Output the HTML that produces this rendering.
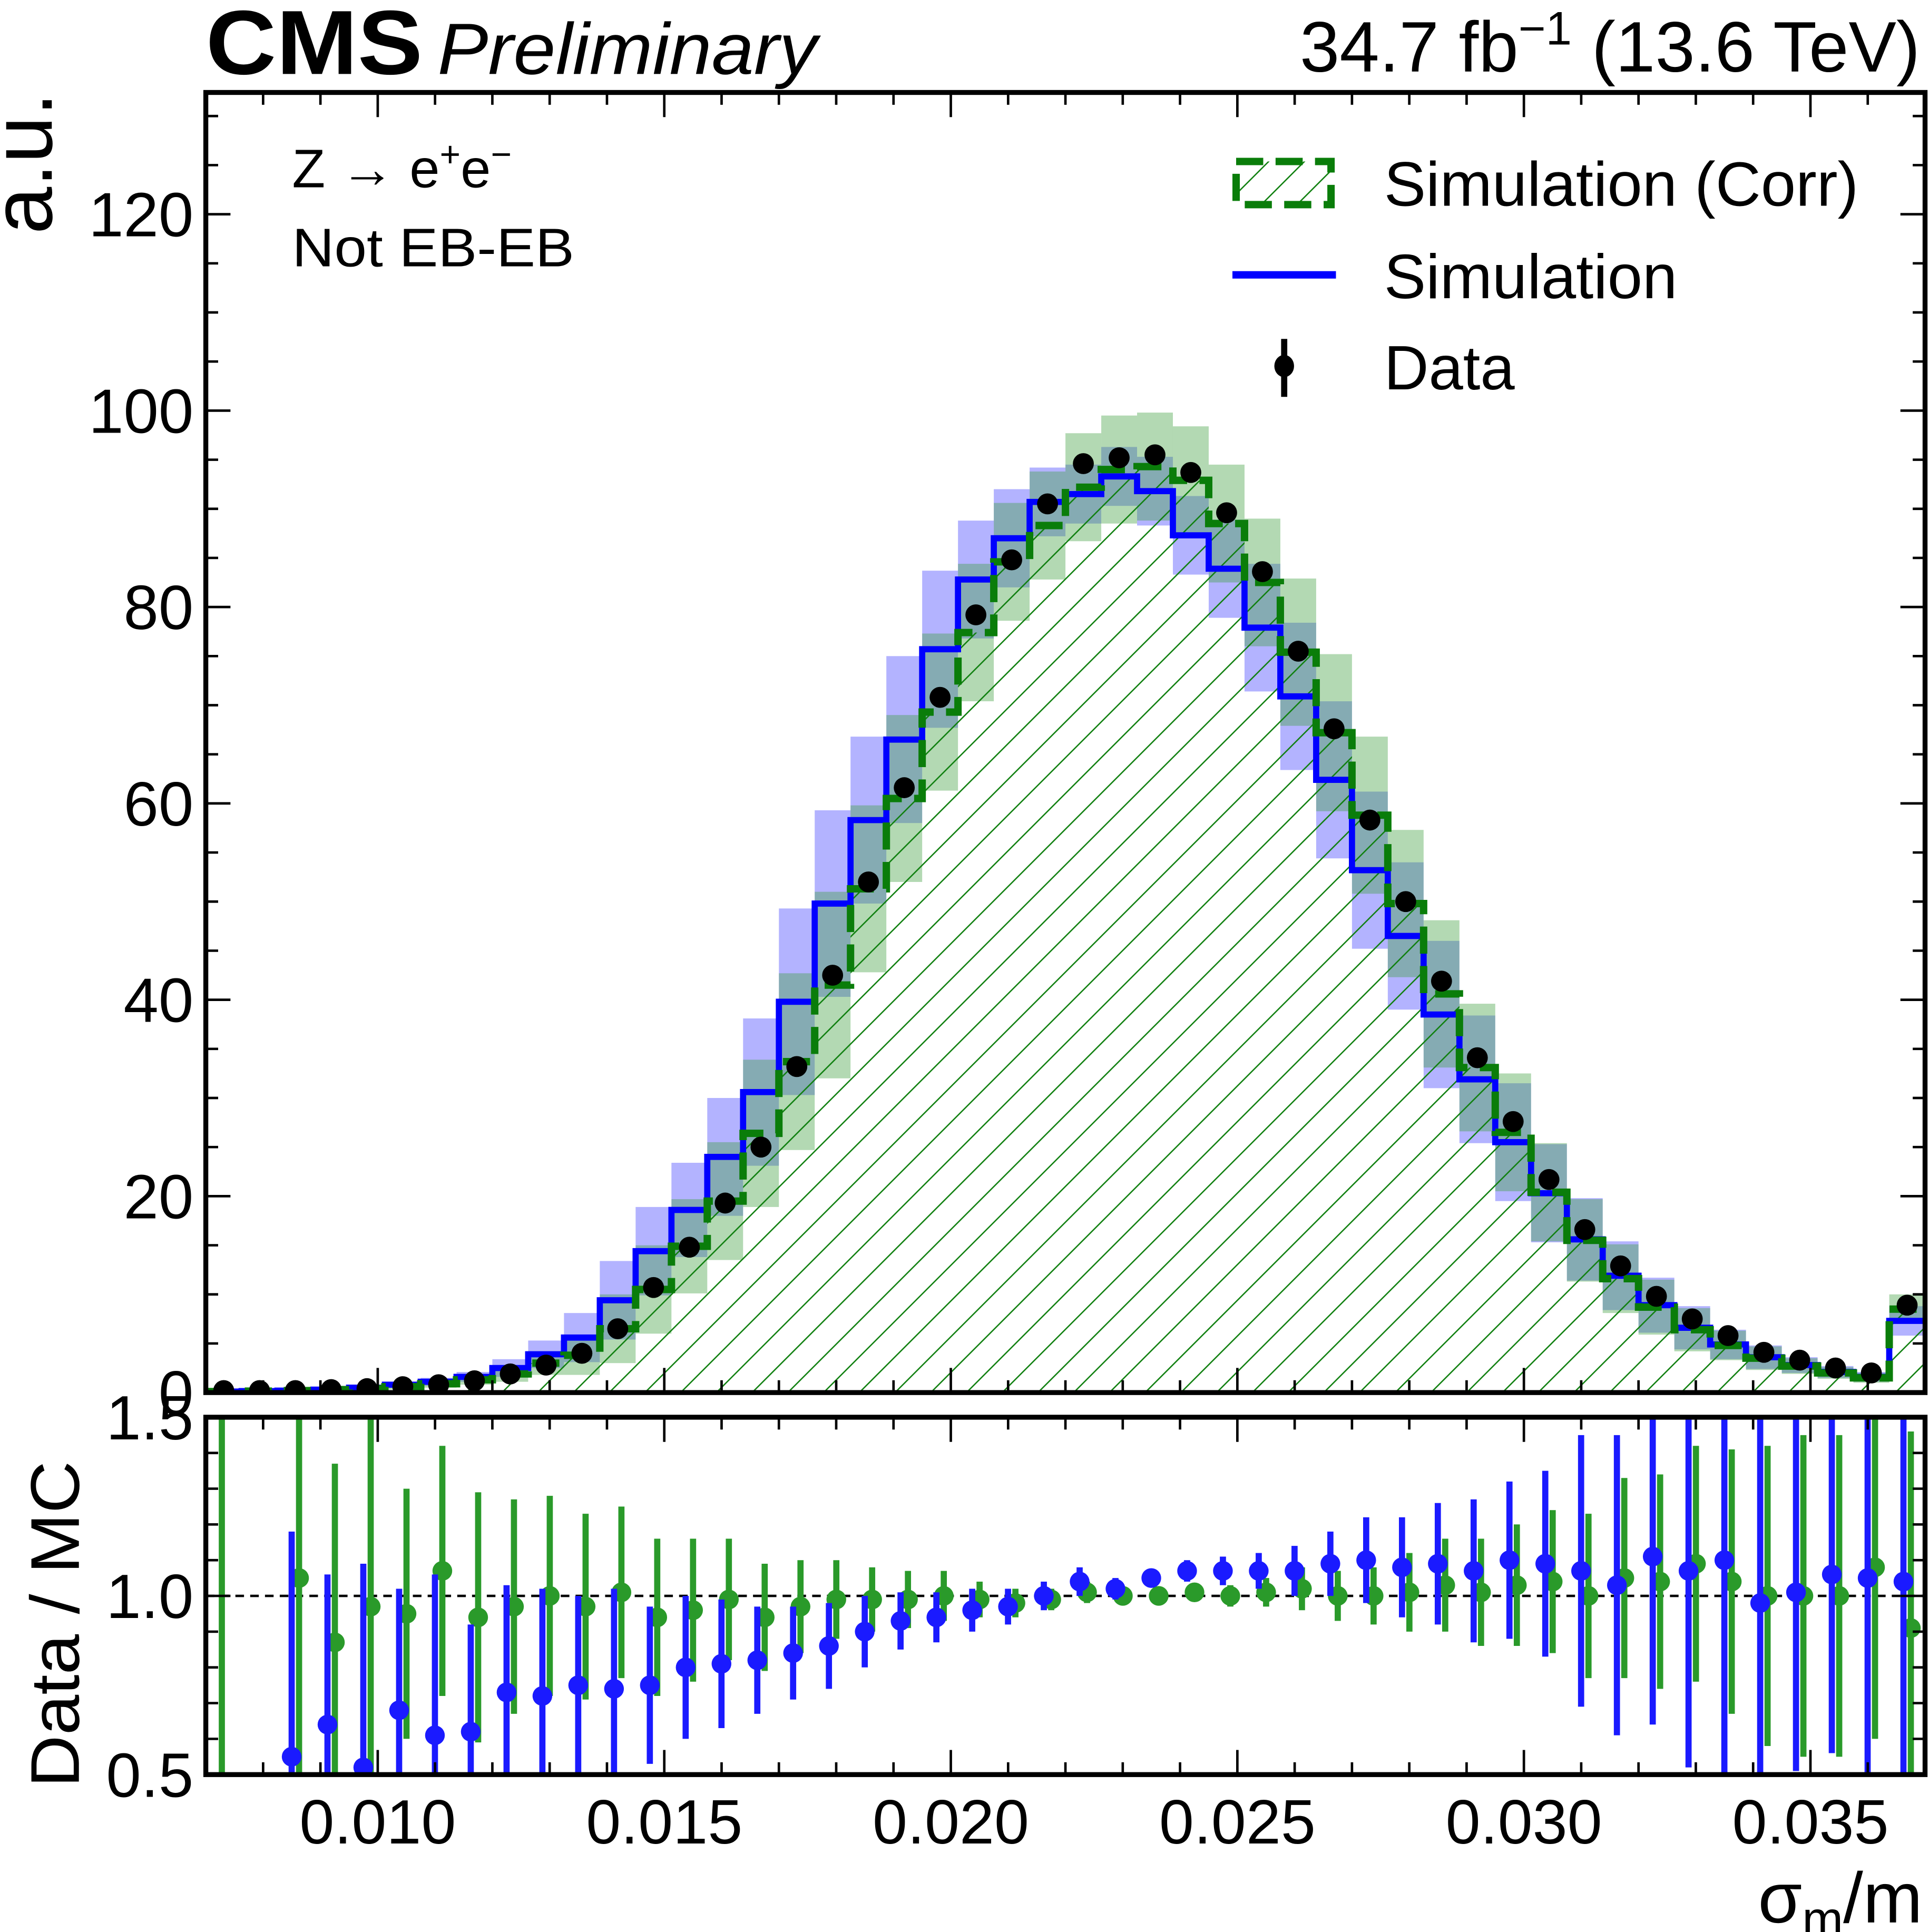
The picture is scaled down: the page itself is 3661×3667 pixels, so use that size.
<!DOCTYPE html>
<html><head><meta charset="utf-8"><style>
html,body{margin:0;padding:0;background:#fff;}
svg{display:block;}
text{font-family:"Liberation Sans",sans-serif;fill:#000;}
</style></head><body>
<svg id="chart" xmlns="http://www.w3.org/2000/svg" width="3661" height="3667" viewBox="0 0 1565.2 1567.7">
<defs>
<pattern id="hatch" patternUnits="userSpaceOnUse" width="20.5" height="20.5" patternTransform="rotate(45)">
<line x1="0" y1="0" x2="0" y2="20.5" stroke="#108010" stroke-width="2.2"/>
</pattern>
<clipPath id="mainclip"><rect x="167" y="75" width="1395" height="1055"/></clipPath>
<clipPath id="ratioclip"><rect x="167" y="1150" width="1395" height="290"/></clipPath>
</defs>
<g id="main-layer" clip-path="url(#mainclip)"></g>
<g id="ratio-layer" clip-path="url(#ratioclip)"></g>
<g id="axes-layer"></g>

<text x="167" y="60" font-size="74" font-weight="bold" textLength="176" lengthAdjust="spacingAndGlyphs">CMS</text>
<text x="355" y="60" font-size="59" font-style="italic" textLength="308" lengthAdjust="spacingAndGlyphs">Preliminary</text>
<text x="1558" y="58" font-size="58" text-anchor="end">34.7 fb<tspan font-size="38" dy="-22">−1</tspan><tspan dy="22"> (13.6 TeV)</tspan></text>
<text x="237" y="152" font-size="44">Z → e<tspan font-size="29" dy="-17">+</tspan><tspan dy="17">e</tspan><tspan font-size="29" dy="-17">−</tspan></text>
<text x="237" y="216" font-size="44" textLength="229" lengthAdjust="spacingAndGlyphs">Not EB-EB</text>
<text transform="translate(42,75) rotate(-90)" font-size="70" text-anchor="end" textLength="115" lengthAdjust="spacingAndGlyphs">a.u.</text>
<text transform="translate(64,1318) rotate(-90)" font-size="56" text-anchor="middle" textLength="265" lengthAdjust="spacingAndGlyphs">Data / MC</text>
<text x="1560" y="1560" font-size="58" text-anchor="end">σ<tspan font-size="40" dy="11">m</tspan><tspan dy="-11">/m</tspan></text>

<g>
<g>
<rect x="1003" y="131" width="77" height="35" fill="url(#hatch)" stroke="#0a7d0a" stroke-width="6" stroke-dasharray="22,10"/>
<text x="1123" y="167" font-size="51" textLength="385" lengthAdjust="spacingAndGlyphs">Simulation (Corr)</text></g>
<g>
<line x1="1000" y1="223" x2="1084" y2="223" stroke="#0000ff" stroke-width="6"/>
<text x="1123" y="242" font-size="51" textLength="238" lengthAdjust="spacingAndGlyphs">Simulation</text></g>
<g>
<line x1="1042" y1="275" x2="1042" y2="322" stroke="#000" stroke-width="5"/>
<ellipse cx="1042" cy="297" rx="8" ry="9" fill="#000"/>
<text x="1123" y="316" font-size="51" textLength="106" lengthAdjust="spacingAndGlyphs">Data</text></g>
</g>

<script>
const binEdgesMin = 0.007;
const binWidth = 0.000625;
const xTickLabels = ["0.010","0.015","0.020","0.025","0.030","0.035"];
const yTickLabels = ["0","20","40","60","80","100","120"];
const ratioTickLabels = ["0.5","1.0","1.5"];
const dataValues = [0.2,0.2,0.2,0.3,0.4,0.6,0.8,1.2,1.9,2.8,4.0,6.5,10.7,14.8,19.3,25.0,33.2,42.5,52.0,61.6,70.8,79.2,84.8,90.5,94.6,95.2,95.5,93.7,89.6,83.6,75.5,67.6,58.3,50.0,41.9,34.1,27.6,21.7,16.6,12.9,9.8,7.5,5.8,4.1,3.3,2.5,2.0,8.9];
const simValues = [0.1,0.15,0.2,0.3,0.5,0.8,1.1,1.6,2.5,3.9,5.6,9.4,14.4,18.6,24.0,30.6,39.8,49.8,58.3,66.5,75.7,82.8,87.0,90.7,91.5,93.3,91.8,87.3,83.9,77.9,70.9,62.4,53.2,46.5,38.5,31.9,25.5,20.3,15.6,11.9,8.9,6.6,4.9,3.6,2.8,2.1,1.6,7.3];
const simCorrValues = [0.1,0.15,0.2,0.3,0.4,0.6,0.9,1.3,1.9,3.0,3.8,6.5,10.5,14.9,19.5,26.4,33.7,41.5,51.3,60.5,69.3,77.4,84.6,88.3,92.2,94.0,94.3,92.9,88.5,82.5,75.4,67.2,58.8,49.8,40.6,33.1,26.5,20.4,15.5,11.6,8.7,6.4,4.8,3.5,2.7,2.0,1.5,8.5];
const simBandHalf = [0.1,0.1,0.1,0.15,0.2,0.3,0.4,0.5,0.9,1.4,2.5,4,4.5,4.8,6,7.5,9.5,9.5,8.5,8.5,8,6,5,3.5,3,3,3.5,4,5,6.5,7.5,8,8,7.5,7.5,6.5,6,5,4.2,3.5,2.8,2.2,1.5,1.2,0.8,0.6,0.5,1.5];
const simCorrBandHalf = [0.1,0.1,0.1,0.15,0.2,0.3,0.4,0.5,0.8,1.2,2,3.5,4.5,4.8,6,7.5,9,9.5,8.5,8.5,8,7,6,5.5,5.5,5.5,5.5,5.5,6,6.5,7.5,8,8,7.5,7.5,6.5,6,5,4.2,3.5,2.8,2.2,1.5,1.2,0.8,0.6,0.5,1.5];
const ratioSim = [null,null,0.55,0.64,0.52,0.68,0.61,0.62,0.73,0.72,0.75,0.74,0.75,0.80,0.81,0.82,0.84,0.86,0.90,0.93,0.94,0.96,0.97,1.00,1.04,1.02,1.05,1.07,1.07,1.07,1.07,1.09,1.10,1.08,1.09,1.07,1.10,1.09,1.07,1.03,1.11,1.07,1.10,0.98,1.01,1.06,1.05,1.04];
const ratioSimErr = [0,0,0.63,0.42,0.57,0.34,0.45,0.3,0.3,0.3,0.25,0.28,0.22,0.2,0.18,0.15,0.13,0.12,0.1,0.08,0.07,0.06,0.05,0.04,0.04,0.03,0.02,0.03,0.04,0.05,0.07,0.09,0.12,0.14,0.17,0.2,0.22,0.26,0.38,0.42,0.47,0.55,0.6,0.55,0.5,0.5,0.55,0.6];
const ratioCorr = [null,null,1.05,0.87,0.97,0.95,1.07,0.94,0.97,1.00,0.97,1.01,0.94,0.96,0.99,0.94,0.97,0.99,0.99,0.99,1.00,0.99,0.98,0.99,1.01,1.00,1.00,1.01,1.00,1.01,1.02,1.00,1.00,1.01,1.03,1.01,1.03,1.04,1.00,1.05,1.04,1.09,1.04,1.00,1.00,1.00,1.08,0.91];
const ratioCorrErr = [0,0,0.6,0.5,0.6,0.35,0.35,0.35,0.3,0.28,0.26,0.24,0.22,0.2,0.17,0.15,0.13,0.11,0.09,0.08,0.07,0.05,0.04,0.03,0.03,0.02,0.02,0.02,0.03,0.04,0.06,0.07,0.08,0.11,0.13,0.15,0.17,0.2,0.23,0.28,0.3,0.33,0.37,0.42,0.45,0.45,0.48,0.55];

const NS="http://www.w3.org/2000/svg";
const PL=167,PR=1562,PT=75,PB=1130,RT=1150,RB=1440;
const xMin=0.007,xMax=0.037,yMax=132.4;
function X(v){return PL+(v-xMin)/(xMax-xMin)*(PR-PL);}
function Y(v){return PB-v/yMax*(PB-PT);}
function R(v){return RB-(v-0.5)/1.0*(RB-RT);}
function mk(tag,attrs,parent){const e=document.createElementNS(NS,tag);for(const k in attrs)e.setAttribute(k,attrs[k]);parent.appendChild(e);return e;}
const main=document.getElementById('main-layer');
const ratio=document.getElementById('ratio-layer');
const axes=document.getElementById('axes-layer');
const n=dataValues.length;
function lo(i){return binEdgesMin+i*binWidth;}

[[simValues,simBandHalf,'#4040ff','sim-band'],[simCorrValues,simCorrBandHalf,'#40a040','simcorr-band']].forEach(([arr,hw,col,nm])=>{
  const g=mk('g',{},main);
  
  
  arr.forEach((v,i)=>{
    const top=Y(v+hw[i]), bot=Y(Math.max(0,v-hw[i]));
    const r=mk('rect',{x:X(lo(i)),y:top,width:X(lo(i+1))-X(lo(i)),height:bot-top,fill:col,'fill-opacity':0.4},g);
    
    
  });
});
function stepPath(arr,close){let d='M'+X(lo(0))+','+Y(close?0:arr[0]);arr.forEach((v,i)=>{d+=' L'+X(lo(i))+','+Y(v)+' L'+X(lo(i+1))+','+Y(v);});if(close)d+=' L'+X(lo(n))+','+Y(0)+' Z';return d;}
const hf=mk('path',{d:stepPath(simCorrValues,true),fill:'url(#hatch)'},main);


const bl=mk('path',{d:stepPath(simValues,false),fill:'none',stroke:'#0000ff','stroke-width':5},main);


const gl=mk('path',{d:stepPath(simCorrValues,false),fill:'none',stroke:'#0a7d0a','stroke-width':6,'stroke-dasharray':'22,10'},main);


dataValues.forEach((v,i)=>{
  const c=mk('circle',{cx:(X(lo(i))+X(lo(i+1)))/2,cy:Y(v),r:8.5,fill:'#000'},main);
  
  
});
mk('line',{x1:PL,x2:PR,y1:R(1),y2:R(1),stroke:'#000','stroke-width':2,'stroke-dasharray':'7,5'},ratio);
[[ratioCorr,ratioCorrErr,'#2a9a2a',3,'ratio-simcorr-point'],[ratioSim,ratioSimErr,'#1a1aff',-3,'ratio-sim-point']].forEach(([vals,errs,col,off,nm])=>{
  vals.forEach((v,i)=>{
    if(v===null)return;
    const cx=(X(lo(i))+X(lo(i+1)))/2+off;
    const g=mk('g',{},ratio);
    
    
    mk('line',{x1:cx,x2:cx,y1:R(v-errs[i]),y2:R(v+errs[i]),stroke:col,'stroke-width':5},g);
    mk('circle',{cx:cx,cy:R(v),r:8,fill:col},g);
  });
});
[[ratioSim,'#1a1aff',-7],[ratioCorr,'#2a9a2a',13]].forEach(([a,col,off])=>{
  const l=mk('line',{x1:X(lo(0))+off,x2:X(lo(0))+off,y1:RT,y2:RB,stroke:col,'stroke-width':5},ratio);
  
  
});
[[PT,PB,'main-frame'],[RT,RB,'ratio-frame']].forEach(([t,b,nm])=>{
  const r=mk('rect',{x:PL,y:t,width:PR-PL,height:b-t,fill:'none',stroke:'#000','stroke-width':4},axes);
  
  
});
for(let k=7;k<=37;k++){
  const v=k/1000, x=X(v), major=(k%5===0), L=major?20:10;
  [[PT,1],[PB,-1],[RT,1],[RB,-1]].forEach(([y0,s])=>mk('line',{x1:x,x2:x,y1:y0,y2:y0+s*L,stroke:'#000','stroke-width':2},axes));
}
xTickLabels.forEach(s=>{
  const t=mk('text',{x:X(parseFloat(s)),y:1496,'font-size':51,'text-anchor':'middle',textLength:127,lengthAdjust:'spacingAndGlyphs'},axes);
  t.textContent=s;
  
  
});
for(let v=0;v<=130;v+=5){
  const y=Y(v),L=(v%20===0)?20:10;
  mk('line',{x1:PL,x2:PL+L,y1:y,y2:y,stroke:'#000','stroke-width':2},axes);
  mk('line',{x1:PR,x2:PR-L,y1:y,y2:y,stroke:'#000','stroke-width':2},axes);
}
yTickLabels.forEach(s=>{
  const t=mk('text',{x:157,y:Y(parseFloat(s))+18,'font-size':51,'text-anchor':'end'},axes);
  t.textContent=s;
  
  
});
for(let k=5;k<=15;k++){
  const y=R(k/10),L=(k%5===0)?20:10;
  mk('line',{x1:PL,x2:PL+L,y1:y,y2:y,stroke:'#000','stroke-width':2},axes);
  mk('line',{x1:PR,x2:PR-L,y1:y,y2:y,stroke:'#000','stroke-width':2},axes);
}
ratioTickLabels.forEach(s=>{
  const t=mk('text',{x:157,y:R(parseFloat(s))+18,'font-size':51,'text-anchor':'end'},axes);
  t.textContent=s;
  
  
});
</script>
</svg>
</body></html>
